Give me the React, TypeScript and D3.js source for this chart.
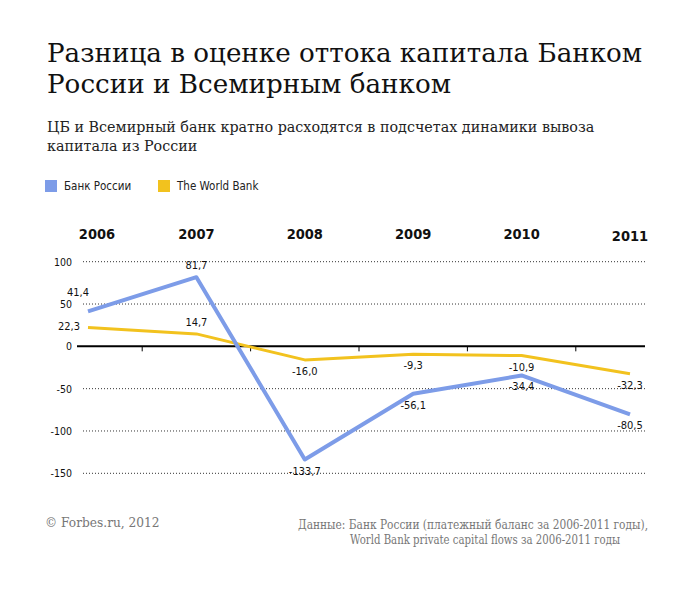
import React from "react";
import * as d3 from "d3";

const years = ["2006", "2007", "2008", "2009", "2010", "2011"];
const bankRussia = [41.4, 81.7, -133.7, -56.1, -34.4, -80.5];
const worldBank = [22.3, 14.7, -16.0, -9.3, -10.9, -32.3];
const yTicks = [100, 50, 0, -50, -100, -150];
const bankLabelPlace = ["aboveLeft", "above", "below", "below", "below", "below"];
const wbLabelPlace = ["left", "above", "below", "below", "below", "below"];

const BLUE = "#7d9ce8";
const YELLOW = "#f2c21e";
const COND = "'DejaVu Sans Condensed', 'DejaVu Sans', sans-serif";
const SERIF = "'DejaVu Serif', Georgia, serif";
const SERIF_C = "'DejaVu Serif Condensed', 'DejaVu Serif', serif";

const fmt = (v: number) => v.toFixed(1).replace(".", ",");

export default function App() {
  const W = 690, H = 591;
  const x = d3.scalePoint<string>().domain(years).range([88, 630]);
  const y = d3.scaleLinear().domain([-150, 100]).range([473.3, 261.7]);
  const line = d3.line<number>().x((_, i) => x(years[i])!).y((d) => y(d));

  const labelXY = (place: string, i: number, v: number) => {
    const px = x(years[i])!, py = y(v);
    if (place === "aboveLeft") return { lx: px - 10, ly: py - 15, anchor: "middle" };
    if (place === "above") return { lx: px, ly: py - 8, anchor: "middle" };
    if (place === "left") return { lx: px - 8, ly: py + 3, anchor: "end" };
    return { lx: px, ly: py + 15, anchor: "middle" };
  };

  const mids = years.slice(0, -1).map((yr, i) => (x(yr)! + x(years[i + 1])!) / 2);

  return (
    <svg width={W} height={H} style={{ position: "absolute", left: 0, top: 0, background: "#fff" }}>
      <text x={47} y={62} fontFamily={SERIF} fontSize={26.2} fill="#111">Разница в оценке оттока капитала Банком</text>
      <text x={47} y={93} fontFamily={SERIF} fontSize={26.2} fill="#111">России и Всемирным банком</text>
      <text x={47} y={132} fontFamily={SERIF} fontSize={14.3} fill="#222">ЦБ и Всемирный банк кратно расходятся в подсчетах динамики вывоза</text>
      <text x={47} y={151} fontFamily={SERIF} fontSize={14.3} fill="#222">капитала из России</text>

      <rect x={45} y={180} width={12} height={12} fill={BLUE} />
      <text x={64} y={190} fontFamily={COND} fontSize={11.5} fill="#222">Банк России</text>
      <rect x={158} y={180} width={12} height={12} fill={YELLOW} />
      <text x={177} y={190} fontFamily={COND} fontSize={11.5} fill="#222">The World Bank</text>

      {years.map((yr, i) => (
        <text key={yr} x={x(yr)! + (i === 0 ? 9 : 0)} y={i === 5 ? 241 : 239} textAnchor="middle" fontFamily={COND} fontWeight="bold" fontSize={14.5} fill="#111">{yr}</text>
      ))}

      {yTicks.filter((t) => t !== 0).map((t) => (
        <line key={t} x1={83} x2={645} y1={y(t)} y2={y(t)} stroke="#333" strokeWidth={1} strokeDasharray="1,2" />
      ))}
      {yTicks.map((t) => (
        <text key={t} x={72} y={y(t) + 4} textAnchor="end" fontFamily={COND} fontSize={10.5} fill="#111">{t}</text>
      ))}
      <line x1={77} x2={645} y1={y(0)} y2={y(0)} stroke="#000" strokeWidth={2} />
      {mids.map((m, i) => (
        <line key={i} x1={m} x2={m} y1={y(0)} y2={y(0) + 5} stroke="#000" strokeWidth={1} />
      ))}

      <path d={line(worldBank)!} fill="none" stroke={YELLOW} strokeWidth={3} strokeLinejoin="round" />
      <path d={line(bankRussia)!} fill="none" stroke={BLUE} strokeWidth={4} strokeLinejoin="round" />

      {bankRussia.map((v, i) => {
        const p = labelXY(bankLabelPlace[i], i, v);
        return <text key={"b" + i} x={p.lx} y={p.ly} textAnchor={p.anchor} fontFamily={COND} fontSize={11} fill="#111">{fmt(v)}</text>;
      })}
      {worldBank.map((v, i) => {
        const p = labelXY(wbLabelPlace[i], i, v);
        return <text key={"w" + i} x={p.lx} y={p.ly} textAnchor={p.anchor} fontFamily={COND} fontSize={11} fill="#111">{fmt(v)}</text>;
      })}

      <text x={45} y={527} fontFamily={SERIF} fontSize={12.2} fill="#777">© Forbes.ru, 2012</text>
      <text x={298} y={529} fontFamily={SERIF_C} fontSize={12} fill="#777" textLength={350} lengthAdjust="spacingAndGlyphs">Данные: Банк России (платежный баланс за 2006-2011 годы),</text>
      <text x={350} y={544} fontFamily={SERIF_C} fontSize={12} fill="#777" textLength={270} lengthAdjust="spacingAndGlyphs">World Bank private capital flows за 2006-2011 годы</text>
    </svg>
  );
}
